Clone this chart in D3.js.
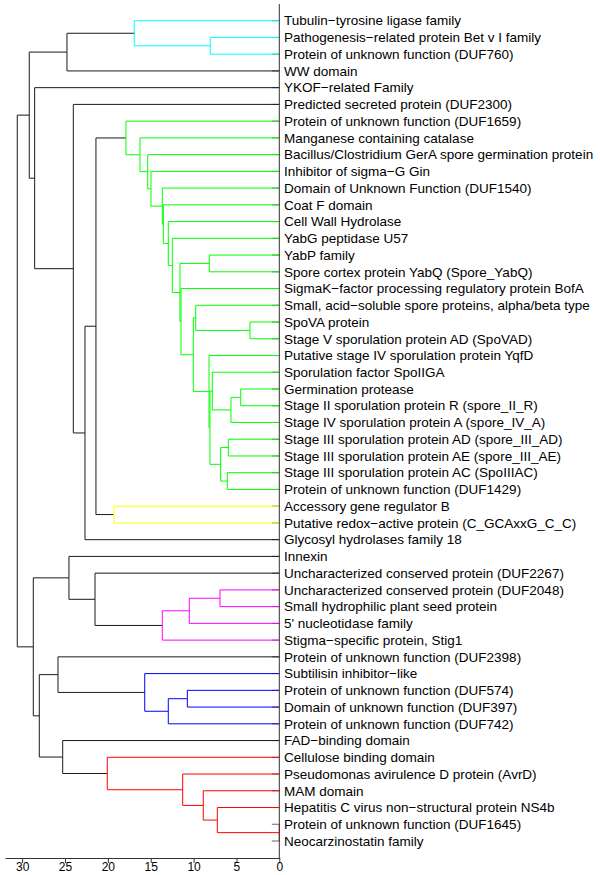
<!DOCTYPE html>
<html>
<head>
<meta charset="utf-8">
<script src="https://cdn.jsdelivr.net/npm/d3@7"></script>
<style>
  html, body { margin: 0; padding: 0; background: #fff; }
  svg { display: block; }
</style>
</head>
<body>
<svg id="chart" width="600" height="875"></svg>
<script>
// ---------- DATA ----------
const leafLabels = [
  "Tubulin\u2212tyrosine ligase family",
  "Pathogenesis\u2212related protein Bet v I family",
  "Protein of unknown function (DUF760)",
  "WW domain",
  "YKOF\u2212related Family",
  "Predicted secreted protein (DUF2300)",
  "Protein of unknown function (DUF1659)",
  "Manganese containing catalase",
  "Bacillus/Clostridium GerA spore germination protein",
  "Inhibitor of sigma\u2212G Gin",
  "Domain of Unknown Function (DUF1540)",
  "Coat F domain",
  "Cell Wall Hydrolase",
  "YabG peptidase U57",
  "YabP family",
  "Spore cortex protein YabQ (Spore_YabQ)",
  "SigmaK\u2212factor processing regulatory protein BofA",
  "Small, acid\u2212soluble spore proteins, alpha/beta type",
  "SpoVA protein",
  "Stage V sporulation protein AD (SpoVAD)",
  "Putative stage IV sporulation protein YqfD",
  "Sporulation factor SpoIIGA",
  "Germination protease",
  "Stage II sporulation protein R (spore_II_R)",
  "Stage IV sporulation protein A (spore_IV_A)",
  "Stage III sporulation protein AD (spore_III_AD)",
  "Stage III sporulation protein AE (spore_III_AE)",
  "Stage III sporulation protein AC (SpoIIIAC)",
  "Protein of unknown function (DUF1429)",
  "Accessory gene regulator B",
  "Putative redox\u2212active protein (C_GCAxxG_C_C)",
  "Glycosyl hydrolases family 18",
  "Innexin",
  "Uncharacterized conserved protein (DUF2267)",
  "Uncharacterized conserved protein (DUF2048)",
  "Small hydrophilic plant seed protein",
  "5' nucleotidase family",
  "Stigma\u2212specific protein, Stig1",
  "Protein of unknown function (DUF2398)",
  "Subtilisin inhibitor\u2212like",
  "Protein of unknown function (DUF574)",
  "Domain of unknown function (DUF397)",
  "Protein of unknown function (DUF742)",
  "FAD\u2212binding domain",
  "Cellulose binding domain",
  "Pseudomonas avirulence D protein (AvrD)",
  "MAM domain",
  "Hepatitis C virus non\u2212structural protein NS4b",
  "Protein of unknown function (DUF1645)",
  "Neocarzinostatin family"
];

// cluster id of each leaf (0 = not in a coloured cluster)
const leafCluster = [
  1,1,1,0,0,0,
  2,2,2,2,2,2,2,2,2,2,2,2,2,2,2,2,2,2,2,2,2,2,2,
  3,3,0,0,0,
  4,4,4,4,0,
  5,5,5,5,0,
  6,6,6,6,6,6
];

// hclust-style merge table: negative = leaf (1-based), positive = earlier merge row (1-based)
const mergeRows = [
  [-2, -3], [-1, 1], [2, -4],                 // 1-3
  [-30, -31],                                 // 4
  [-15, -16], [-19, -20], [-18, 6],           // 5-7
  [-23, -24], [8, -25], [-22, 9],             // 8-10
  [-26, -27], [-28, -29], [11, 12],           // 11-13
  [10, 13], [-21, 14], [7, 15],               // 14-16
  [-17, 16], [5, 17], [-14, 18], [-13, 19],   // 17-20
  [-12, 20], [-11, 21], [-10, 22], [-9, 23],  // 21-24
  [-8, 24], [-7, 25],                         // 25-26
  [26, 4], [27, -32], [-6, 28], [-5, 29], [3, 30], // 27-31
  [-35, -36], [32, -37], [33, -38],           // 32-34
  [-34, 34], [-33, 35],                       // 35-36
  [-41, -42], [37, -43], [-40, 38], [-39, 39],// 37-40
  [-49, -50], [-48, 41], [-47, 42], [-46, 43],// 41-44
  [-45, 44], [-44, 45],                       // 45-46
  [40, 46], [36, 47], [31, 48]                // 47-49
];

const mergeHeights = [
  8.05, 16.92, 24.77,
  19.29,
  8.17, 3.42, 9.75,
  4.50, 5.64, 7.82,
  5.95, 6.07, 6.84,
  8.09, 8.20, 10.03,
  11.47, 11.59, 12.48, 12.95,
  13.53, 13.65, 14.97, 15.35,
  16.25, 17.89,
  21.39, 22.67, 24.03, 28.54, 29.17,
  6.92, 10.50, 13.65,
  21.50, 24.54,
  10.73, 12.95, 15.70, 25.82,
  0.00, 7.23, 8.87, 11.27,
  20.07, 25.27,
  28.00, 28.70, 30.57
];

const axisTicks = [30, 25, 20, 15, 10, 5, 0];

// ---------- STYLE ----------
const clusterColors = { 0: "#1a1a1a", 1: "#00ffff", 2: "#00ff00", 3: "#ffff00", 4: "#ff00ff", 5: "#0000ff", 6: "#ff0000" };
const font = "'Liberation Sans', Arial, Helvetica, sans-serif";

// ---------- BUILD TREE ----------
function build(ref) {
  if (ref < 0) {
    const i = -ref - 1;
    return { name: leafLabels[i], h: 0, cluster: leafCluster[i] };
  }
  const [a, b] = mergeRows[ref - 1];
  return { h: mergeHeights[ref - 1], children: [build(a), build(b)] };
}
const root = d3.hierarchy(build(mergeRows.length));
const n = leafLabels.length;
d3.cluster().size([n, 1]).separation(() => 1)(root);

// cluster colour of internal nodes
root.eachAfter(d => {
  if (d.children) {
    const c = d.children.map(k => k.data.cluster);
    d.data.cluster = c.every(v => v === c[0]) ? c[0] : 0;
  }
});

// ---------- SCALES ----------
const x = d3.scaleLinear().domain([32, 0]).range([5, 279.3]);
const y = d3.scaleLinear().domain([0.5, n - 0.5]).range([20.7, 841]);

const svg = d3.select("#chart");

// leaf tick marks (left of the leaf axis)
svg.append("g").selectAll("line").data(root.leaves()).join("line")
  .attr("x1", x(0) - 7.5).attr("x2", x(0))
  .attr("y1", d => y(d.x)).attr("y2", d => y(d.x))
  .attr("stroke", "#666").attr("stroke-width", 1);

// branches
const g = svg.append("g").attr("fill", "none").attr("stroke-width", 1);
root.descendants().filter(d => d.children).forEach(d => {
  const col = clusterColors[d.data.cluster];
  const ys = d.children.map(k => y(k.x));
  g.append("line")
    .attr("x1", x(d.data.h)).attr("x2", x(d.data.h))
    .attr("y1", d3.min(ys)).attr("y2", d3.max(ys))
    .attr("stroke", col);
  d.children.forEach(k => {
    const kc = (k.data.cluster === d.data.cluster) ? clusterColors[k.data.cluster] : clusterColors[0];
    g.append("line")
      .attr("x1", x(d.data.h)).attr("x2", x(k.data.h))
      .attr("y1", y(k.x)).attr("y2", y(k.x))
      .attr("stroke", kc);
  });
});

// leaf axis line
svg.append("line")
  .attr("x1", x(0)).attr("x2", x(0))
  .attr("y1", 4).attr("y2", 858)
  .attr("stroke", "#333").attr("stroke-width", 1);

// leaf labels
svg.append("g").selectAll("text").data(root.leaves()).join("text")
  .attr("x", 284).attr("y", d => y(d.x)).attr("dy", "0.35em")
  .attr("font-family", font).attr("font-size", "13.5px").attr("fill", "#000")
  .text(d => d.data.name);

// bottom axis
const ax = svg.append("g").attr("transform", "translate(0,858)")
  .call(d3.axisBottom(x).tickValues(axisTicks).tickSize(5).tickSizeOuter(0));
ax.selectAll("path, line").attr("stroke", "#333");
ax.selectAll("text")
  .attr("y", 13).attr("dy", 0)
  .attr("font-family", font).attr("font-size", "12px").attr("fill", "#000");
</script>
</body>
</html>
